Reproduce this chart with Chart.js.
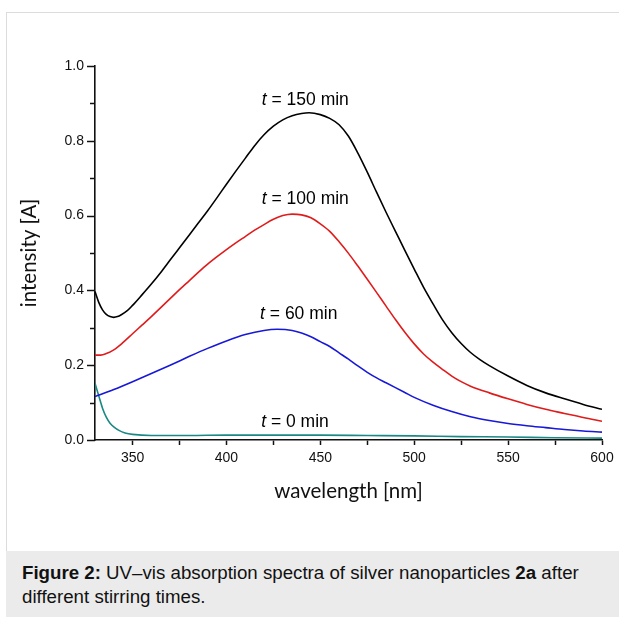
<!DOCTYPE html>
<html>
<head>
<meta charset="utf-8">
<script src="https://cdn.jsdelivr.net/npm/chart.js@4.4.1/dist/chart.umd.min.js"></script>
<style>
  html, body { margin: 0; padding: 0; background: #fff; width: 619px; height: 617px; overflow: hidden; }
  #frame { position: absolute; left: 6px; top: 12px; width: 613px; height: 605px;
           border-left: 1px solid #dcdcdc; border-top: 1px solid #dcdcdc; box-sizing: border-box; }
  #chartWrap { position: absolute; left: 0; top: 0; width: 619px; height: 550px; }
  #caption { position: absolute; left: 6px; top: 551px; width: 613px; height: 66px; background: #ebebeb;
             box-sizing: border-box; padding: 10px 0 0 16px; font-family: "Liberation Sans", Arial, sans-serif;
             font-size: 18.7px; line-height: 24px; color: #111; }
</style>
</head>
<body>
<div id="frame"></div>
<div id="chartWrap"><canvas id="c" width="619" height="550"></canvas></div>
<div id="caption"><b>Figure 2:</b> UV–vis absorption spectra of silver nanoparticles <b>2a</b> after different stirring times.</div>
<script>
// ---- data ----
const wlT150 = [330, 332, 334, 336, 338, 340, 342, 344, 347, 350, 355, 360, 365, 370, 375, 380, 385, 390, 395, 400, 405, 410, 415, 420, 425, 430, 435, 440, 444, 450, 455, 460, 465, 470, 475, 480, 485, 490, 495, 500, 505, 510, 515, 520, 525, 530, 535, 540, 550, 560, 570, 580, 590, 600];
const t150 = [0.397, 0.368, 0.348, 0.336, 0.330, 0.328, 0.330, 0.335, 0.345, 0.360, 0.388, 0.417, 0.448, 0.481, 0.514, 0.547, 0.580, 0.613, 0.648, 0.684, 0.719, 0.753, 0.787, 0.816, 0.839, 0.856, 0.867, 0.873, 0.875, 0.870, 0.860, 0.843, 0.812, 0.767, 0.716, 0.662, 0.609, 0.558, 0.507, 0.457, 0.408, 0.364, 0.322, 0.287, 0.258, 0.234, 0.215, 0.199, 0.171, 0.146, 0.126, 0.110, 0.095, 0.082];

const wlT100 = [330, 333, 336, 340, 345, 350, 355, 360, 365, 370, 375, 380, 385, 390, 395, 400, 405, 410, 415, 420, 425, 430, 435, 440, 445, 450, 455, 460, 465, 470, 475, 480, 485, 490, 495, 500, 505, 510, 515, 520, 525, 530, 540, 550, 560, 570, 580, 590, 600];
const t100 = [0.227, 0.227, 0.231, 0.241, 0.261, 0.284, 0.307, 0.330, 0.354, 0.378, 0.402, 0.425, 0.448, 0.470, 0.490, 0.509, 0.527, 0.544, 0.561, 0.576, 0.590, 0.600, 0.604, 0.602, 0.594, 0.578, 0.558, 0.530, 0.499, 0.465, 0.430, 0.394, 0.358, 0.322, 0.288, 0.257, 0.230, 0.208, 0.189, 0.171, 0.156, 0.144, 0.126, 0.110, 0.095, 0.082, 0.071, 0.060, 0.050];

const wlT60 = [330, 340, 350, 360, 370, 380, 390, 400, 410, 420, 427, 435, 440, 445, 450, 455, 460, 465, 470, 475, 480, 485, 490, 495, 500, 510, 520, 530, 540, 550, 560, 570, 580, 590, 600];
const t60 = [0.116, 0.135, 0.156, 0.178, 0.200, 0.223, 0.245, 0.265, 0.282, 0.293, 0.296, 0.293, 0.286, 0.276, 0.263, 0.250, 0.233, 0.216, 0.198, 0.181, 0.166, 0.153, 0.140, 0.127, 0.114, 0.093, 0.076, 0.062, 0.052, 0.044, 0.038, 0.033, 0.028, 0.024, 0.021];

const wlT0 = [330, 332, 334, 336, 338, 340, 343, 346, 350, 360, 380, 400, 425, 450, 475, 500, 525, 550, 575, 600];
const t0 = [0.152, 0.118, 0.085, 0.061, 0.045, 0.035, 0.025, 0.019, 0.015, 0.012, 0.012, 0.013, 0.013, 0.013, 0.012, 0.011, 0.009, 0.008, 0.006, 0.005];

const seriesNames = ['t = 150 min', 't = 100 min', 't = 60 min', 't = 0 min'];
const labelWavelengths = [442, 442, 438.5, 436.5];
const labelValues = [0.896, 0.631, 0.323, 0.035];

const xTicks = [350, 400, 450, 500, 550, 600];
const yTicks = [0.0, 0.2, 0.4, 0.6, 0.8, 1.0];

function pts(xs, ys) { return xs.map((x, i) => ({ x: x, y: ys[i] })); }

const colors = ['#000000', '#e01b1b', '#1818d8', '#1a8884'];
const FAM = '"Liberation Sans", Arial, sans-serif';

const curveLabels = {
  id: 'curveLabels',
  afterDatasetsDraw(chart) {
    const ctx = chart.ctx, xs = chart.scales.x, ys = chart.scales.y;
    ctx.save();
    ctx.fillStyle = '#000';
    ctx.textBaseline = 'alphabetic';
    seriesNames.forEach((name, i) => {
      const rest = name.slice(1);
      ctx.font = 'italic 17.5px ' + FAM;
      const w1 = ctx.measureText('t').width;
      ctx.font = '17.5px ' + FAM;
      const w2 = ctx.measureText(rest).width;
      const cx = xs.getPixelForValue(labelWavelengths[i]);
      const cy = ys.getPixelForValue(labelValues[i]);
      const x0 = cx - (w1 + w2) / 2;
      ctx.font = 'italic 17.5px ' + FAM;
      ctx.fillText('t', x0, cy);
      ctx.font = '17.5px ' + FAM;
      ctx.fillText(rest, x0 + w1, cy);
    });
    ctx.restore();
  }
};

// y-axis tick marks: longer for labelled values, shorter for minor ones
const yTickMarks = {
  id: 'yTickMarks',
  afterDraw(chart) {
    const ctx = chart.ctx, ys = chart.scales.y;
    const ax = chart.chartArea.left;
    ctx.save();
    ctx.strokeStyle = '#111';
    ctx.lineWidth = 1.5;
    ys.ticks.forEach(t => {
      const major = yTicks.some(v => Math.abs(v - t.value) < 1e-9);
      const len = major ? 8 : 5;
      const py = Math.round(ys.getPixelForValue(t.value)) + 0.5;
      ctx.beginPath();
      ctx.moveTo(ax - len, py);
      ctx.lineTo(ax, py);
      ctx.stroke();
    });
    ctx.restore();
  }
};

new Chart(document.getElementById('c'), {
  type: 'scatter',
  data: {
    datasets: [
      { label: seriesNames[0], data: pts(wlT150, t150), borderColor: colors[0] },
      { label: seriesNames[1], data: pts(wlT100, t100), borderColor: colors[1] },
      { label: seriesNames[2], data: pts(wlT60, t60), borderColor: colors[2] },
      { label: seriesNames[3], data: pts(wlT0, t0), borderColor: colors[3] }
    ].map(d => Object.assign(d, { showLine: true, pointRadius: 0, borderWidth: 1.6, cubicInterpolationMode: 'monotone', fill: false }))
  },
  options: {
    responsive: false,
    devicePixelRatio: 1,
    animation: false,
    events: [],
    layout: { padding: { left: 0, right: 17, top: 66, bottom: 0 } },
    plugins: { legend: { display: false }, tooltip: { enabled: false } },
    scales: {
      x: {
        type: 'linear', min: 330, max: 600,
        afterBuildTicks(scale) {
          const t = [];
          for (let v = 350; v <= 600; v += 25) t.push({ value: v });
          scale.ticks = t;
        },
        afterFit(scale) { scale.height = 110; },
        grid: { drawOnChartArea: false, drawTicks: true, tickLength: 5, tickColor: '#111', tickWidth: 1.5 },
        border: { display: true, color: '#111', width: 1.6 },
        ticks: {
          color: '#111', padding: 5,
          font: { family: FAM, size: 14 },
          callback: (v) => xTicks.includes(v) ? String(v) : ''
        },
        title: { display: true, text: 'wavelength [nm]', color: '#111',
                 font: { family: 'Lato, "Open Sans", sans-serif', size: 20.5 },
                 padding: { top: 0, bottom: 46 } }
      },
      y: {
        type: 'linear', min: 0, max: 1,
        afterBuildTicks(scale) {
          const t = [];
          for (let i = 0; i <= 10; i++) t.push({ value: i / 10 });
          scale.ticks = t;
        },
        afterFit(scale) { scale.width = 95; },
        grid: { drawOnChartArea: false, drawTicks: false },
        border: { display: true, color: '#111', width: 1.6 },
        ticks: {
          color: '#111', padding: 11,
          font: { family: FAM, size: 14 },
          callback: (v) => {
            const r = Math.round(v * 10) / 10;
            return yTicks.some(t => Math.abs(t - r) < 1e-9) ? r.toFixed(1) : '';
          }
        },
        title: { display: true, text: 'intensity [A]', color: '#111',
                 font: { family: 'Lato, "Open Sans", sans-serif', size: 20.5 },
                 padding: { top: 17, bottom: 0 } }
      }
    }
  },
  plugins: [curveLabels, yTickMarks]
});
</script>
</body>
</html>
